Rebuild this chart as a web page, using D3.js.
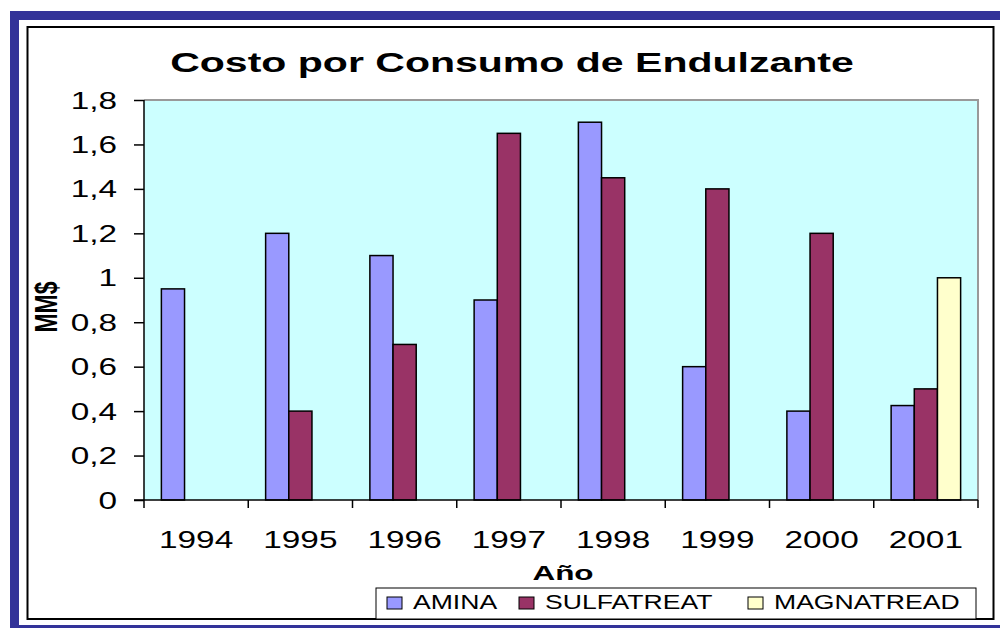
<!DOCTYPE html>
<html>
<head>
<meta charset="utf-8">
<script src="https://cdn.jsdelivr.net/npm/d3@7"></script>
<style>
  html, body { margin: 0; padding: 0; background: #ffffff; }
  svg { display: block; font-family: Arial, "Liberation Sans", sans-serif; }
</style>
</head>
<body>
<svg id="chart" width="1000" height="628"></svg>
<script>
// ---- data ----
const categories = ["1994", "1995", "1996", "1997", "1998", "1999", "2000", "2001"];
const seriesNames = ["AMINA", "SULFATREAT", "MAGNATREAD"];
const aminaValues = [0.95, 1.2, 1.1, 0.9, 1.7, 0.6, 0.4, 0.425];
const sulfatreatValues = [0, 0.4, 0.7, 1.65, 1.45, 1.4, 1.2, 0.5];
const magnatreadValues = [0, 0, 0, 0, 0, 0, 0, 1.0];
const yTicks = [0, 0.2, 0.4, 0.6, 0.8, 1, 1.2, 1.4, 1.6, 1.8];
const seriesColors = ["#9999FF", "#993366", "#FFFFCC"];

const seriesValues = [aminaValues, sulfatreatValues, magnatreadValues];

const svg = d3.select("#chart");

// frame
svg.append("rect").attr("x", 10).attr("y", 11).attr("width", 990).attr("height", 617).attr("fill", "#333399");
svg.append("rect").attr("x", 19).attr("y", 20).attr("width", 981).attr("height", 605).attr("fill", "#ffffff");
svg.append("rect").attr("x", 27.5).attr("y", 27).attr("width", 966).attr("height", 592)
  .attr("fill", "#ffffff").attr("stroke", "#000").attr("stroke-width", 2);

const plot = { left: 144, right: 978, top: 100, bottom: 500 };

const x0 = d3.scaleBand().domain(categories).range([plot.left, plot.right]).paddingInner(0).paddingOuter(0);
const groupPad = x0.bandwidth() * 1.5 / 4.5 / 2;
const x1 = d3.scaleBand().domain(seriesNames).range([groupPad, x0.bandwidth() - groupPad]).padding(0);
const y = d3.scaleLinear().domain([0, 1.8]).range([plot.bottom, plot.top]);

// plot background
svg.append("rect").attr("x", plot.left).attr("y", plot.top)
  .attr("width", plot.right - plot.left).attr("height", plot.bottom - plot.top)
  .attr("fill", "#CCFFFF");
svg.append("path")
  .attr("d", `M${plot.left},${plot.top}H${plot.right}V${plot.bottom}`)
  .attr("fill", "none").attr("stroke", "#999999").attr("stroke-width", 2);

// bars
const rows = [];
categories.forEach((c, i) => {
  seriesNames.forEach((s, j) => {
    if (seriesValues[j][i] > 0) rows.push({ c, s, v: seriesValues[j][i], color: seriesColors[j] });
  });
});
svg.append("g").selectAll("rect").data(rows).join("rect")
  .attr("x", d => x0(d.c) + x1(d.s))
  .attr("y", d => y(d.v))
  .attr("width", x1.bandwidth())
  .attr("height", d => y(0) - y(d.v))
  .attr("fill", d => d.color)
  .attr("stroke", "#000").attr("stroke-width", 1.5);

// helper for horizontally stretched text
function stretchedText(g, x, yy, txt, size, sx, anchor, weight) {
  return g.append("text")
    .attr("transform", `translate(${x},${yy}) scale(${sx},1)`)
    .attr("text-anchor", anchor)
    .attr("font-size", size)
    .attr("font-weight", weight || "normal")
    .attr("fill", "#000")
    .text(txt);
}

// y axis
const yAxis = d3.axisLeft(y).tickValues(yTicks).tickSize(10).tickFormat("");
const yg = svg.append("g").attr("transform", `translate(${plot.left},0)`).call(yAxis);
yg.selectAll("path, line").attr("stroke", "#000").attr("stroke-width", 1.5);
yg.select(".domain").attr("d", `M0,${plot.top}V${plot.bottom}`);
yTicks.forEach(t => {
  stretchedText(svg, 117, y(t) + 8.5, String(t).replace(".", ","), 23, 1.45, "end");
});

// x axis
const xAxis = d3.axisBottom(x0).tickSize(0).tickFormat("");
const xg = svg.append("g").attr("transform", `translate(0,${plot.bottom})`).call(xAxis);
xg.select(".domain").attr("stroke", "#000").attr("stroke-width", 1.5)
  .attr("d", `M${plot.left - 10},0H${plot.right}`);
const boundaries = categories.map(c => x0(c)).concat([plot.right]);
xg.selectAll("line.bt").data(boundaries).join("line").attr("class", "bt")
  .attr("x1", d => d).attr("x2", d => d).attr("y1", 0).attr("y2", 8)
  .attr("stroke", "#000").attr("stroke-width", 1.5);
categories.forEach(c => {
  stretchedText(svg, x0(c) + x0.bandwidth() / 2, 548, c, 23, 1.45, "middle");
});

// titles
stretchedText(svg, 512, 72, "Costo por Consumo de Endulzante", 27, 1.52, "middle", "bold");
stretchedText(svg, 563, 580, "Año", 21, 1.5, "middle", "bold");
svg.append("text")
  .attr("transform", `translate(57,307) scale(1.35,1) rotate(-90)`)
  .attr("text-anchor", "middle").attr("font-size", 23).attr("font-weight", "bold")
  .text("MM$");

// legend
svg.append("rect").attr("x", 376).attr("y", 588).attr("width", 600).attr("height", 31)
  .attr("fill", "#fff").attr("stroke", "#000").attr("stroke-width", 1);
const legendX = [387, 519, 748];
seriesNames.forEach((s, i) => {
  svg.append("rect").attr("x", legendX[i]).attr("y", 597).attr("width", 15).attr("height", 12)
    .attr("fill", seriesColors[i]).attr("stroke", "#000").attr("stroke-width", 1);
  stretchedText(svg, legendX[i] + 26, 609, s, 20, 1.33, "start");
});
</script>
</body>
</html>
